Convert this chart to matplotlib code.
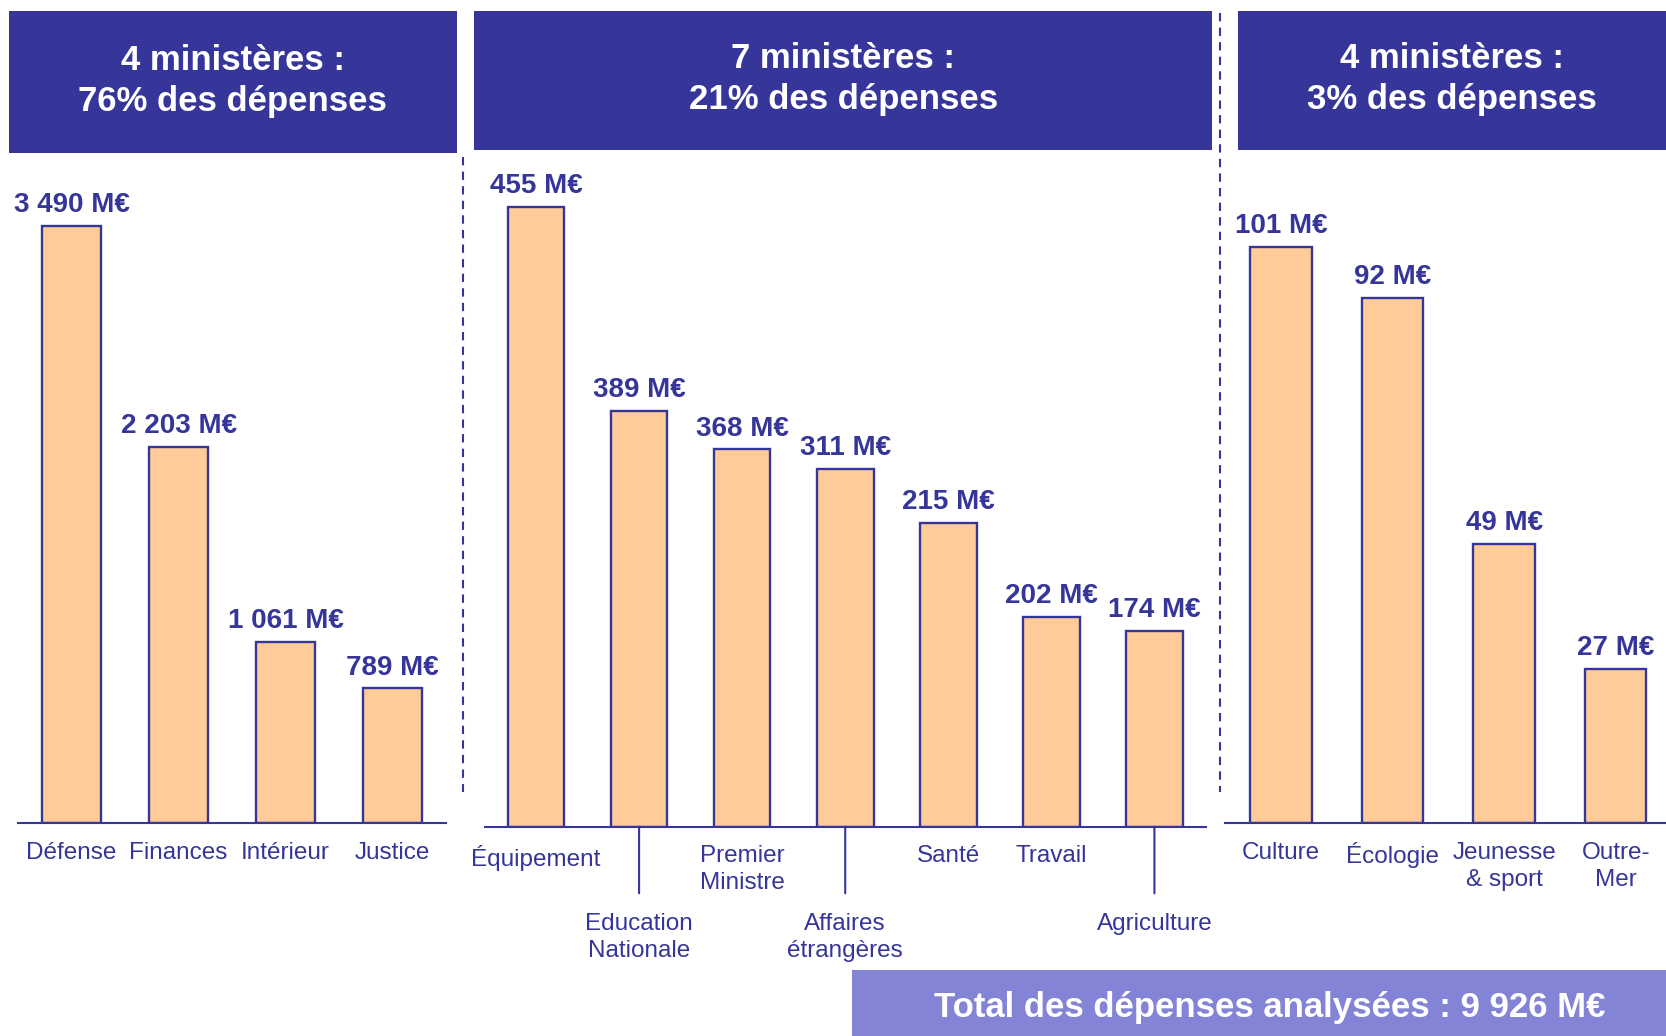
import matplotlib.pyplot as plt
from matplotlib.patches import Rectangle
from matplotlib.lines import Line2D

plt.rcParams["font.family"] = ["Liberation Sans", "DejaVu Sans"]

# header boxes
groupes = [
    "4 ministères :\n76% des dépenses",
    "7 ministères :\n21% des dépenses",
    "4 ministères :\n3% des dépenses",
]

# 4 biggest ministries
ministeres_1 = ["Défense", "Finances", "Intérieur", "Justice"]
depenses_1 = [3490, 2203, 1061, 789]

# 7 middle ministries (bars in the original are not to scale,
# so the drawn heights are kept apart from the values)
ministeres_2 = ["Équipement", "Education\nNationale", "Premier\nMinistre",
                "Affaires\nétrangères", "Santé", "Travail", "Agriculture"]
depenses_2 = [455, 389, 368, 311, 215, 202, 174]
hauteurs_2 = [583, 391, 355, 337, 286, 197, 184]
niveau_2 = [0, 1, 0, 1, 0, 0, 1]

# 4 smallest ministries
ministeres_3 = ["Culture", "Écologie", "Jeunesse\n& sport", "Outre-\nMer"]
depenses_3 = [101, 92, 49, 27]

total = 9926

BLEU = "#35359a"
BLEU_CLAIR = "#8484d6"
ORANGE = "#ffcc99"

W, H = 1568, 975  # layout grid used below


def fx(x):
    return x / W


def fy(y):
    return 1 - y / H


def fmt(v):
    return f"{v:,}".replace(",", " ") + " M€"


fig = plt.figure(figsize=(16.66, 10.36), dpi=100)


def panel(x0, x1, y_base, y_top, ymax, noms, hauteurs, valeurs, niveaux, xmax_pad=0.5):
    ax = fig.add_axes([fx(x0), fy(y_base), fx(x1) - fx(x0), (y_base - y_top) / H])
    n = len(noms)
    ax.bar(range(n), hauteurs, width=0.55, color=ORANGE, edgecolor=BLEU,
           linewidth=1.7, zorder=2)
    ax.set_xlim(-0.5, n - 1 + xmax_pad)
    ax.set_ylim(0, ymax)
    for s in ["top", "left", "right"]:
        ax.spines[s].set_visible(False)
    ax.spines["bottom"].set_color(BLEU)
    ax.spines["bottom"].set_linewidth(1.5)
    ax.set_xticks([])
    ax.set_yticks([])
    ax.patch.set_alpha(0)
    for i, (h, v, nom, lv) in enumerate(zip(hauteurs, valeurs, noms, niveaux)):
        ax.annotate(fmt(v), xy=(i, h), xytext=(0, 10), textcoords="offset points",
                    ha="center", va="baseline", fontsize=20, fontweight="bold",
                    color=BLEU, annotation_clip=False)
        dy = 13 + 49 * lv
        ax.annotate(nom, xy=(i, 0), xytext=(0, -dy), textcoords="offset points",
                    ha="center", va="top", fontsize=17.5, color=BLEU,
                    linespacing=1.3, multialignment="center",
                    annotation_clip=False)
        if lv:
            ax.annotate("", xy=(i, 0), xytext=(0, -48), textcoords="offset points",
                        arrowprops=dict(arrowstyle="-", color=BLEU, lw=1.5,
                                        shrinkA=0, shrinkB=0),
                        annotation_clip=False)
    return ax


panel(17, 420, 775, 150, 625 / 0.16103, ministeres_1, depenses_1, depenses_1,
      [0] * 4)
panel(456, 1135, 778, 150, 628, ministeres_2, hauteurs_2, depenses_2, niveau_2)
panel(1153, 1568, 775, 150, 625 / 5.376, ministeres_3, depenses_3, depenses_3,
      [0] * 4, xmax_pad=0.45)

# header boxes
boites = [(8, 430, 10, 144), (446, 1141, 10, 141), (1165, 1568, 10, 141)]
for (x0, x1, y0, y1), txt in zip(boites, groupes):
    fig.add_artist(Rectangle((fx(x0), fy(y1)), fx(x1) - fx(x0), (y1 - y0) / H,
                             transform=fig.transFigure, color=BLEU, lw=0))
    fig.text(fx((x0 + x1) / 2), fy((y0 + y1) / 2 - 1), txt, ha="center",
             va="center", color="white", fontsize=25, fontweight="bold",
             linespacing=1.32)

# dashed separators
for x, y0, y1 in [(436, 148, 745), (1148, 12, 745)]:
    fig.add_artist(Line2D([fx(x), fx(x)], [fy(y0), fy(y1)],
                          transform=fig.transFigure, color=BLEU, lw=1.5,
                          linestyle=(0, (4, 3))))

# total box
fig.add_artist(Rectangle((fx(802), 0), 1 - fx(802), (975 - 913) / H,
                         transform=fig.transFigure, color=BLEU_CLAIR, lw=0))
fig.text(fx(1195), fy(948), f"Total des dépenses analysées : {fmt(total)}",
         ha="center", va="center", color="white", fontsize=25, fontweight="bold")

fig.savefig("out.png", dpi=100)
